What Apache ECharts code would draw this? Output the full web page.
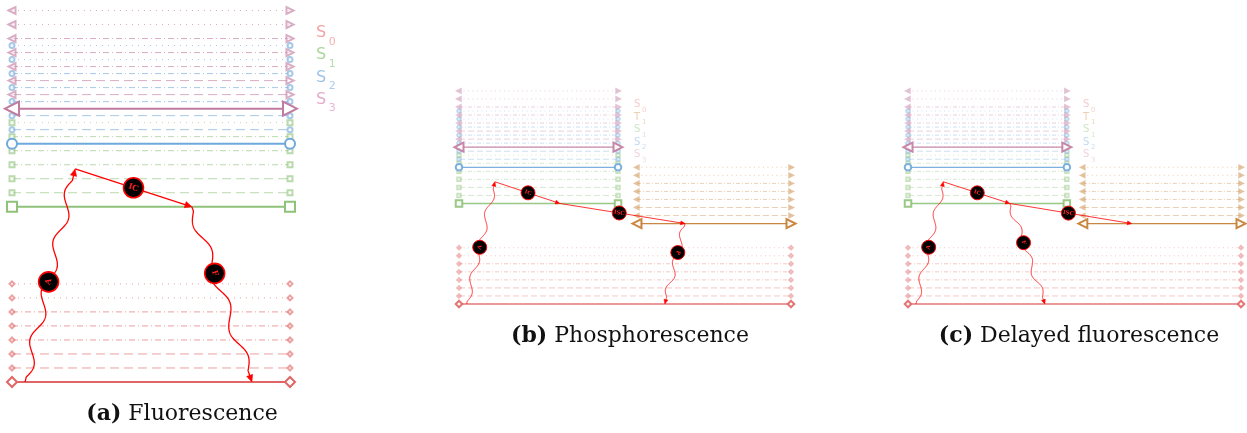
<!DOCTYPE html>
<html>
<head>
<meta charset="utf-8">
<script src="https://cdn.jsdelivr.net/npm/echarts@6/dist/echarts.min.js"></script>
<style>
  html, body { margin: 0; padding: 0; background: #ffffff; }
  #chart { width: 1247px; height: 433px; }
</style>
</head>
<body>
<div id="chart"></div>
<script>
// Electronic states and the energy of their v = 0 level (in vibrational quanta above S0)
const stateNames = ['S0', 'S1', 'S2', 'S3', 'T1'];
const stateEnergies = [0, 12.5, 17, 19.5, 10];
const vibrationalQuanta = [0, 1, 2, 3, 4, 5, 6, 7];

// (a) Fluorescence: states drawn, their horizontal extent, transitions
const fluoStates = ['S0', 'S1', 'S2', 'S3'];
const fluoSpans = [[0, 1], [0, 1], [0, 1], [0, 1]];
const fluoLabels = ['A', 'IC', 'F'];
const fluoFrom = [[0.047, 0], [0.227, 15.2], [0.647, 12.5]];
const fluoTo = [[0.227, 15.2], [0.647, 12.5], [0.863, 0]];
const fluoRadiative = [true, false, true];
const fluoMarkAt = [0.47, 0.5, 0.38];

// (b) Phosphorescence
const phosStates = ['S0', 'T1', 'S1', 'S2', 'S3'];
const phosSpans = [[0, 1], [0.536, 1], [0, 0.479], [0, 0.479], [0, 0.479]];
const phosLabels = ['A', 'IC', 'ISC', 'P'];
const phosFrom = [[0.023, 0], [0.108, 15.2], [0.304, 12.5], [0.681, 10]];
const phosTo = [[0.108, 15.2], [0.304, 12.5], [0.681, 10], [0.62, 0]];
const phosRadiative = [true, false, false, true];
const phosMarkAt = [0.464, 0.51, 0.474, 0.36];

// (c) Delayed fluorescence
const delayStates = ['S0', 'T1', 'S1', 'S2', 'S3'];
const delaySpans = [[0, 1], [0.525, 1], [0, 0.477], [0, 0.477], [0, 0.477]];
const delayLabels = ['A', 'IC', 'ISC', 'F'];
const delayFrom = [[0.024, 0], [0.106, 15.2], [0.306, 12.5], [0.306, 12.5]];
const delayTo = [[0.106, 15.2], [0.306, 12.5], [0.672, 10], [0.411, 0]];
const delayRadiative = [true, false, false, true];
const delayMarkAt = [0.464, 0.51, 0.48, 0.39];

// Panel captions
const captionTags = ['(a)', '(b)', '(c)'];
const captionTexts = ['Fluorescence', 'Phosphorescence', 'Delayed fluorescence'];

// ---- styling ----
const stateColors = {S0: '#e06666', S1: '#8fc27a', S2: '#6fa8dc', S3: '#c27ba0', T1: '#c47a2c'};
const legendColorsBig = {S0: '#f2a3a3', S1: '#acd69c', S2: '#9fc4ea', S3: '#e2acca', T1: '#e6bd90'};
const legendColorsSmall = {S0: '#f6cccc', S1: '#cfe6c4', S2: '#c2d8f0', S3: '#eed4e2', T1: '#ecd0b0'};
const stateSymbols = {S0: 'emptyDiamond', S1: 'emptyRect', S2: 'emptyCircle', S3: 'emptyTriangle', T1: 'emptyTriangle'};

const lookA = {
  groundW: 2, vibW: 1, groundSym: 10, vibSym: 5, triGround: 14, triVib: 7,
  dashed: [9, 5], dashDot: [6, 3, 1, 3], dotted: [1, 5],
  vibOpacity: 0.62, groundOpacity: 1,
  arrowW: 1.3, head: 7, headW: 3.2, wave: 52, amp: 5, lead: 5, r: 10, font: 8
};
const lookB = {
  groundW: 1.3, vibW: 0.8, groundSym: 6.5, vibSym: 3.5, triGround: 9, triVib: 3.5,
  dashed: [6, 3], dashDot: [4, 2, 1, 2], dotted: [1, 3.5],
  vibOpacity: 0.45, groundOpacity: 0.9,
  arrowW: 0.8, head: 4.5, headW: 2, wave: 32, amp: 3, lead: 3, r: 7, font: 5.5
};

function levelStyle(look, v) {
  if (v === 0) return 'solid';
  if (v <= 2) return look.dashed;
  if (v <= 5) return look.dashDot;
  return look.dotted;
}

// One line series per vibrational level of each state
function levelSeries(panel, states, spans, look) {
  const out = [];
  states.forEach((st, k) => {
    const e0 = stateEnergies[stateNames.indexOf(st)];
    const tri = stateSymbols[st] === 'emptyTriangle';
    vibrationalQuanta.forEach(v => {
      const ground = v === 0;
      const size = tri ? (ground ? look.triGround : look.triVib) : (ground ? look.groundSym : look.vibSym);
      out.push({
        type: 'line',
        xAxisIndex: panel, yAxisIndex: panel,
        silent: true, animation: false, clip: false,
        z: ground ? 4 : 2,
        data: [[spans[k][0], e0 + v], [spans[k][1], e0 + v]],
        symbol: stateSymbols[st],
        symbolSize: size,
        symbolRotate: tri ? (val, p) => (p.dataIndex === 0 ? 90 : -90) : 0,
        showAllSymbol: true,
        itemStyle: {color: stateColors[st], opacity: ground ? look.groundOpacity : look.vibOpacity, borderWidth: ground ? look.groundW * 0.8 : 1},
        lineStyle: {
          color: stateColors[st],
          width: ground ? look.groundW : look.vibW,
          type: levelStyle(look, v),
          opacity: ground ? look.groundOpacity : look.vibOpacity
        }
      });
    });
  });
  return out;
}

// Transitions: wavy (radiative) or straight (non-radiative) arrows with a labelled disc
function transitionSeries(panel, labels, from, to, radiative, markAt, look) {
  return {
    type: 'custom',
    xAxisIndex: panel, yAxisIndex: panel,
    silent: true, animation: false, clip: false, z: 10,
    data: labels.map((n, i) => [from[i][0], from[i][1], to[i][0], to[i][1], radiative[i] ? 1 : 0, markAt[i]]),
    renderItem(params, api) {
      const i = params.dataIndex;
      const p1 = api.coord([api.value(0), api.value(1)]);
      const p2 = api.coord([api.value(2), api.value(3)]);
      const dx = p2[0] - p1[0], dy = p2[1] - p1[1];
      const L = Math.hypot(dx, dy);
      const ux = dx / L, uy = dy / L, nx = -uy, ny = ux;
      const end = L - look.head * 0.8;
      const pts = [];
      if (api.value(4)) {
        const pre = look.lead, post = look.lead + look.head;
        const span = Math.max(1, L - pre - post);
        const halves = Math.max(1, Math.round(span / (look.wave / 2)));
        const lam = 2 * span / halves;
        for (let s = 0; s <= end; s += 0.5) {
          let off = 0;
          if (s > pre && s < pre + span) off = look.amp * Math.sin(2 * Math.PI * (s - pre) / lam);
          pts.push([p1[0] + ux * s + nx * off, p1[1] + uy * s + ny * off]);
        }
      } else {
        pts.push([p1[0], p1[1]], [p1[0] + ux * end, p1[1] + uy * end]);
      }
      const bx = p2[0] - ux * look.head, by = p2[1] - uy * look.head;
      const t = api.value(5);
      const cx = p1[0] + dx * t, cy = p1[1] + dy * t;
      const rot = -Math.atan2(dy, dx);
      return {
        type: 'group',
        children: [
          {type: 'polyline', shape: {points: pts}, style: {stroke: '#ff0000', fill: null, lineWidth: look.arrowW}},
          {type: 'polygon', shape: {points: [[p2[0], p2[1]], [bx + nx * look.headW, by + ny * look.headW], [bx - nx * look.headW, by - ny * look.headW]]},
            style: {fill: '#ff0000', stroke: '#ff0000', lineWidth: 0.5}},
          {type: 'circle', shape: {cx: cx, cy: cy, r: look.r}, style: {fill: '#000000', stroke: '#ff0000', lineWidth: look.arrowW * 1.2}},
          {type: 'text', x: cx, y: cy, rotation: rot,
            style: {text: labels[i], fill: '#ff2020', fontSize: look.font, fontWeight: 'bold', fontFamily: 'DejaVu Serif', align: 'center', verticalAlign: 'middle'}}
        ]
      };
    }
  };
}

// State legends drawn as text with subscripts
function legendTexts(states, x, y0, step, fs, colors) {
  const els = [];
  states.forEach((st, k) => {
    const y = y0 + k * step;
    els.push({type: 'text', left: x, top: y - fs * 0.4, silent: true,
      style: {text: st.charAt(0), fill: colors[st], font: `${fs}px "DejaVu Sans"`}});
    els.push({type: 'text', left: x + fs * 0.8, top: y + fs * 0.3, silent: true,
      style: {text: st.charAt(1), fill: colors[st], opacity: 0.85, font: `${Math.round(fs * 0.68)}px "DejaVu Sans"`}});
  });
  return els;
}

const grids = [
  {left: 12, top: 10.5, width: 278, height: 371.5},
  {left: 459, top: 90.9, width: 332, height: 213.1},
  {left: 908, top: 90.9, width: 333, height: 213.1}
];

const captionCenters = [[177, 413], [625, 335], [1074, 335]];

const option = {
  backgroundColor: '#ffffff',
  animation: false,
  grid: grids,
  xAxis: grids.map((g, i) => ({type: 'value', gridIndex: i, min: 0, max: 1, show: false})),
  yAxis: grids.map((g, i) => ({type: 'value', gridIndex: i, min: 0, max: 26.5, show: false})),
  title: captionTags.map((tag, i) => ({
    text: `{b|${tag}} ${captionTexts[i]}`,
    left: captionCenters[i][0], top: captionCenters[i][1] - 15,
    textAlign: 'center',
    textStyle: {
      fontFamily: 'DejaVu Serif', fontSize: 22, fontWeight: 'normal', color: '#111111',
      rich: {b: {fontFamily: 'DejaVu Serif', fontSize: 22, fontWeight: 'bold', color: '#111111'}}
    }
  })),
  graphic: [].concat(
    legendTexts(fluoStates, 316, 31.5, 22.2, 16, legendColorsBig),
    legendTexts(phosStates, 634, 103.5, 12.5, 10, legendColorsSmall),
    legendTexts(delayStates, 1083, 103.5, 12.5, 10, legendColorsSmall)
  ),
  series: [].concat(
    levelSeries(0, fluoStates, fluoSpans, lookA),
    levelSeries(1, phosStates, phosSpans, lookB),
    levelSeries(2, delayStates, delaySpans, lookB),
    [
      transitionSeries(0, fluoLabels, fluoFrom, fluoTo, fluoRadiative, fluoMarkAt, lookA),
      transitionSeries(1, phosLabels, phosFrom, phosTo, phosRadiative, phosMarkAt, lookB),
      transitionSeries(2, delayLabels, delayFrom, delayTo, delayRadiative, delayMarkAt, lookB)
    ]
  )
};

const chart = echarts.init(document.getElementById('chart'), null, {renderer: 'canvas'});
chart.setOption(option);
</script>
</body>
</html>
